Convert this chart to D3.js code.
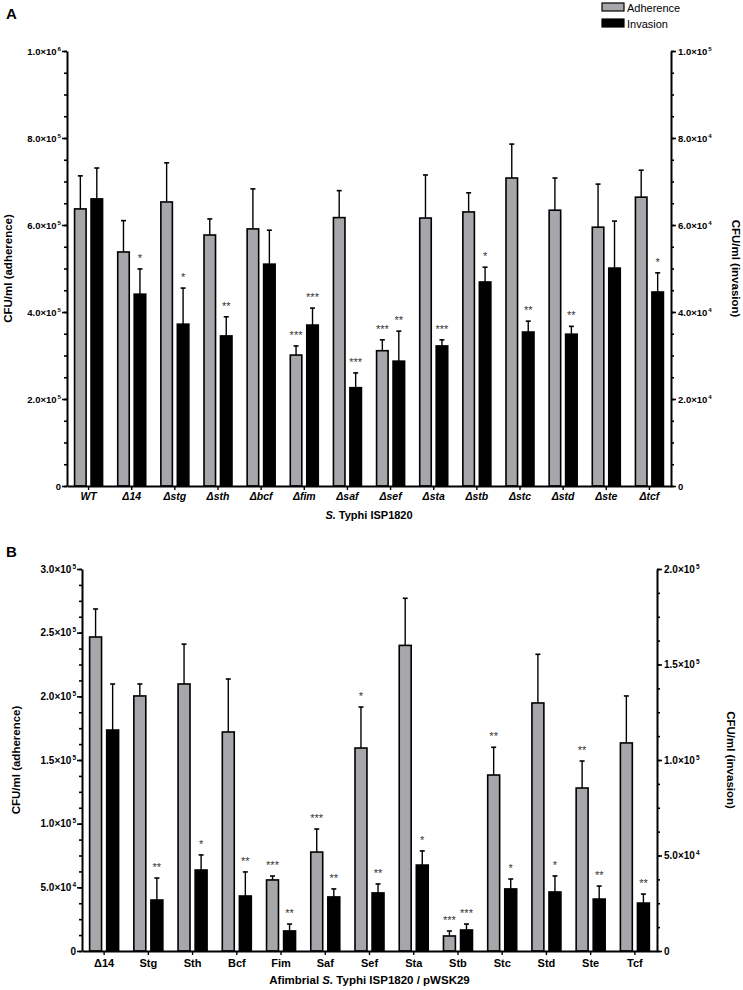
<!DOCTYPE html>
<html>
<head>
<meta charset="utf-8">
<script src="https://cdn.jsdelivr.net/npm/d3@7"></script>
<style>
body { margin: 0; background: #fff; }
svg { font-family: "Liberation Sans", Arial, sans-serif; }
</style>
</head>
<body>
<svg id="chart" width="743" height="990"></svg>
<script>
// Panel A - deletion mutants
const strainsA = ["WT", "Δ14", "Δstg", "Δsth", "Δbcf", "Δfim", "Δsaf", "Δsef", "Δsta", "Δstb", "Δstc", "Δstd", "Δste", "Δtcf"];
const adherenceA = [6.37e5, 5.38e5, 6.53e5, 5.77e5, 5.91e5, 3.01e5, 6.17e5, 3.11e5, 6.16e5, 6.30e5, 7.08e5, 6.34e5, 5.95e5, 6.64e5];
const adherenceSdA = [0.76e5, 0.72e5, 0.90e5, 0.37e5, 0.92e5, 0.21e5, 0.62e5, 0.25e5, 0.99e5, 0.44e5, 0.78e5, 0.74e5, 0.99e5, 0.62e5];
const invasionA = [6.60e4, 4.41e4, 3.72e4, 3.45e4, 5.10e4, 3.70e4, 2.26e4, 2.87e4, 3.22e4, 4.69e4, 3.54e4, 3.49e4, 5.01e4, 4.46e4];
const invasionSdA = [0.71e4, 0.58e4, 0.83e4, 0.44e4, 0.78e4, 0.39e4, 0.34e4, 0.69e4, 0.14e4, 0.34e4, 0.25e4, 0.18e4, 1.08e4, 0.44e4];
const sigAdhA = ["", "", "", "", "", "***", "", "***", "", "", "", "", "", ""];
const sigInvA = ["", "*", "*", "**", "", "***", "***", "**", "***", "*", "**", "**", "", "*"];
const leftTicksA = [0, 2e5, 4e5, 6e5, 8e5, 1e6];
const rightTicksA = [0, 2e4, 4e4, 6e4, 8e4, 1e5];

// Panel B - afimbrial strain complemented
const strainsB = ["Δ14", "Stg", "Sth", "Bcf", "Fim", "Saf", "Sef", "Sta", "Stb", "Stc", "Std", "Ste", "Tcf"];
const adherenceB = [2.466e5, 2.003e5, 2.097e5, 1.72e5, 0.558e5, 0.777e5, 1.594e5, 2.40e5, 0.118e5, 1.382e5, 1.948e5, 1.28e5, 1.634e5];
const adherenceSdB = [0.22e5, 0.094e5, 0.313e5, 0.416e5, 0.031e5, 0.181e5, 0.322e5, 0.37e5, 0.039e5, 0.218e5, 0.382e5, 0.212e5, 0.369e5];
const invasionB = [1.157e5, 0.267e5, 0.424e5, 0.288e5, 0.105e5, 0.283e5, 0.304e5, 0.450e5, 0.110e5, 0.325e5, 0.309e5, 0.272e5, 0.251e5];
const invasionSdB = [0.241e5, 0.115e5, 0.079e5, 0.126e5, 0.036e5, 0.042e5, 0.047e5, 0.074e5, 0.031e5, 0.052e5, 0.084e5, 0.068e5, 0.047e5];
const sigAdhB = ["", "", "", "", "***", "***", "*", "", "***", "**", "", "**", ""];
const sigInvB = ["", "**", "*", "**", "**", "**", "**", "*", "***", "*", "*", "**", "**"];
const leftTicksB = [0, 5e4, 1e5, 1.5e5, 2e5, 2.5e5, 3e5];
const rightTicksB = [0, 5e4, 1e5, 1.5e5, 2e5];

const series = ["Adherence", "Invasion"];
const colors = { Adherence: "#a7a7ab", Invasion: "#000000" };

const svg = d3.select("#chart");

// "2.0×10^5" style label
function sciLabel(sel, v, fs) {
    if (v === 0) { sel.text("0"); return; }
    const e = Math.floor(Math.log10(v) + 1e-9);
    const m = v / Math.pow(10, e);
    sel.append("tspan").text(m.toFixed(1) + "×10");
    sel.append("tspan").attr("font-size", fs * 0.65).attr("dy", -fs * 0.4).attr("dx", 1).text(e);
}

function drawPanel(cfg) {
    const g = svg.append("g");

    const yL = d3.scaleLinear().domain([0, cfg.leftMax]).range([cfg.bottom, cfg.top]);
    const yR = d3.scaleLinear().domain([0, cfg.rightMax]).range([cfg.bottom, cfg.top]);

    const x0 = d3.scaleBand().domain(cfg.strains).range([cfg.left, cfg.right]);
    const bw = x0.bandwidth();
    const x1 = d3.scaleBand().domain(series)
        .range([bw / 2 - cfg.pair / 2, bw / 2 + cfg.pair / 2])
        .paddingInner(0.3);

    const rows = cfg.strains.map((s, i) => ({
        strain: s,
        vals: [
            { key: "Adherence", v: cfg.adh[i], sd: cfg.adhSd[i], sig: cfg.sigAdh[i], y: yL },
            { key: "Invasion", v: cfg.inv[i], sd: cfg.invSd[i], sig: cfg.sigInv[i], y: yR }
        ]
    }));

    const groups = g.selectAll(".grp")
        .data(rows)
        .enter()
        .append("g")
        .attr("transform", d => `translate(${x0(d.strain)},0)`);

    const cells = groups.selectAll(".cell")
        .data(d => d.vals)
        .enter()
        .append("g");

    // error bars (upper only)
    cells.append("line")
        .attr("x1", d => x1(d.key) + x1.bandwidth() / 2)
        .attr("x2", d => x1(d.key) + x1.bandwidth() / 2)
        .attr("y1", d => d.y(d.v))
        .attr("y2", d => d.y(d.v + d.sd))
        .attr("stroke", "#000")
        .attr("stroke-width", 1.4);
    cells.append("line")
        .attr("x1", d => x1(d.key) + x1.bandwidth() / 2 - 2.5)
        .attr("x2", d => x1(d.key) + x1.bandwidth() / 2 + 2.5)
        .attr("y1", d => d.y(d.v + d.sd))
        .attr("y2", d => d.y(d.v + d.sd))
        .attr("stroke", "#000")
        .attr("stroke-width", 1.6);

    cells.append("rect")
        .attr("x", d => x1(d.key))
        .attr("y", d => d.y(d.v))
        .attr("width", x1.bandwidth())
        .attr("height", d => cfg.bottom - d.y(d.v))
        .attr("fill", d => colors[d.key])
        .attr("stroke", "#000")
        .attr("stroke-width", 1.6);

    // significance stars
    cells.filter(d => d.sig !== "")
        .append("text")
        .attr("x", d => x1(d.key) + x1.bandwidth() / 2)
        .attr("y", d => d.y(d.v + d.sd) - 7)
        .attr("text-anchor", "middle")
        .attr("font-size", 11)
        .attr("fill", "#333")
        .text(d => d.sig);

    // left axis
    const minorL = d3.range(0, cfg.leftMax + 1e-6, cfg.leftMinor);
    g.append("g")
        .attr("transform", `translate(${cfg.left},0)`)
        .call(d3.axisLeft(yL).tickValues(minorL).tickSize(3).tickFormat(""))
        .call(a => a.select(".domain").remove());
    g.append("g")
        .attr("transform", `translate(${cfg.left},0)`)
        .call(d3.axisLeft(yL).tickValues(cfg.leftTicks).tickSize(5).tickSizeOuter(0).tickFormat(""))
        .call(a => a.select(".domain").attr("stroke-width", 2));
    cfg.leftTicks.forEach(v => {
        const t = g.append("text")
            .attr("x", cfg.left - 6)
            .attr("y", yL(v) + 3.5)
            .attr("text-anchor", "end")
            .attr("font-size", cfg.tickFs)
            .attr("font-weight", "bold");
        sciLabel(t, v, cfg.tickFs);
    });

    // right axis
    const minorR = d3.range(0, cfg.rightMax + 1e-6, cfg.rightMinor);
    g.append("g")
        .attr("transform", `translate(${cfg.right},0)`)
        .call(d3.axisRight(yR).tickValues(minorR).tickSize(3).tickFormat(""))
        .call(a => a.select(".domain").remove());
    g.append("g")
        .attr("transform", `translate(${cfg.right},0)`)
        .call(d3.axisRight(yR).tickValues(cfg.rightTicks).tickSize(5).tickSizeOuter(0).tickFormat(""))
        .call(a => a.select(".domain").attr("stroke-width", 2));
    cfg.rightTicks.forEach(v => {
        const t = g.append("text")
            .attr("x", cfg.right + 7)
            .attr("y", yR(v) + 3.5)
            .attr("text-anchor", "start")
            .attr("font-size", cfg.tickFs)
            .attr("font-weight", "bold");
        sciLabel(t, v, cfg.tickFs);
    });
    g.selectAll(".tick line").attr("stroke-width", 1.6);

    // bottom axis
    g.append("g")
        .attr("transform", `translate(0,${cfg.bottom})`)
        .call(d3.axisBottom(x0).tickSize(4).tickSizeOuter(0).tickFormat(""))
        .call(a => a.select(".domain").attr("stroke-width", 2))
        .call(a => a.selectAll(".tick line").attr("stroke-width", 1.4));

    g.selectAll(".xlab")
        .data(cfg.strains)
        .enter()
        .append("text")
        .attr("x", d => x0(d) + bw / 2)
        .attr("y", cfg.bottom + cfg.xlabDy)
        .attr("text-anchor", "middle")
        .attr("font-size", cfg.xlabFs)
        .attr("font-weight", "bold")
        .attr("font-style", cfg.xlabItalic ? "italic" : "normal")
        .text(d => d);

    // axis titles
    const xt = g.append("text")
        .attr("x", (cfg.left + cfg.right) / 2)
        .attr("y", cfg.bottom + cfg.xtitleDy)
        .attr("text-anchor", "middle")
        .attr("font-size", cfg.xtitleFs)
        .attr("font-weight", "bold");
    cfg.xtitle.forEach(p => xt.append("tspan").attr("font-style", p.italic ? "italic" : "normal").text(p.t));

    const midY = (cfg.top + cfg.bottom) / 2;
    g.append("text")
        .attr("transform", `translate(${cfg.ylabL},${midY}) rotate(-90)`)
        .attr("text-anchor", "middle")
        .attr("font-size", 11.5)
        .attr("font-weight", "bold")
        .text("CFU/ml (adherence)");
    g.append("text")
        .attr("transform", `translate(${cfg.ylabR},${midY}) rotate(90)`)
        .attr("text-anchor", "middle")
        .attr("font-size", 11.5)
        .attr("font-weight", "bold")
        .text("CFU/ml (invasion)");

    // panel letter
    g.append("text")
        .attr("x", cfg.letterX)
        .attr("y", cfg.letterY)
        .attr("font-size", 15)
        .attr("font-weight", "bold")
        .text(cfg.letter);
}

drawPanel({
    letter: "A", letterX: 6, letterY: 19,
    strains: strainsA, adh: adherenceA, adhSd: adherenceSdA, inv: invasionA, invSd: invasionSdA,
    sigAdh: sigAdhA, sigInv: sigInvA,
    leftMax: 1e6, leftMinor: 5e4, leftTicks: leftTicksA,
    rightMax: 1e5, rightMinor: 5e3, rightTicks: rightTicksA,
    left: 67, right: 671, top: 51, bottom: 486, pair: 28,
    tickFs: 9.5, xlabFs: 10.5, xlabItalic: true, xlabDy: 14,
    xtitle: [{ t: "S.", italic: true }, { t: " Typhi ISP1820", italic: false }], xtitleDy: 33, xtitleFs: 11,
    ylabL: 12, ylabR: 732
});

drawPanel({
    letter: "B", letterX: 6, letterY: 557,
    strains: strainsB, adh: adherenceB, adhSd: adherenceSdB, inv: invasionB, invSd: invasionSdB,
    sigAdh: sigAdhB, sigInv: sigInvB,
    leftMax: 3e5, leftMinor: 1.25e4, leftTicks: leftTicksB,
    rightMax: 2e5, rightMinor: 1.25e4, rightTicks: rightTicksB,
    left: 82, right: 657, top: 569, bottom: 951, pair: 29,
    tickFs: 10, xlabFs: 11, xlabItalic: false, xlabDy: 16,
    xtitle: [{ t: "Afimbrial ", italic: false }, { t: "S.", italic: true }, { t: " Typhi ISP1820 / pWSK29", italic: false }], xtitleDy: 33, xtitleFs: 11.5,
    ylabL: 20, ylabR: 727
});

// legend
const legend = svg.append("g").attr("transform", "translate(602,3)");
series.forEach((s, i) => {
    legend.append("rect")
        .attr("x", 0)
        .attr("y", i * 16)
        .attr("width", 22)
        .attr("height", 8)
        .attr("fill", colors[s])
        .attr("stroke", "#000")
        .attr("stroke-width", 1.2);
    legend.append("text")
        .attr("x", 25)
        .attr("y", i * 16 + 8.5)
        .attr("font-size", 11)
        .text(s);
});
</script>
</body>
</html>
